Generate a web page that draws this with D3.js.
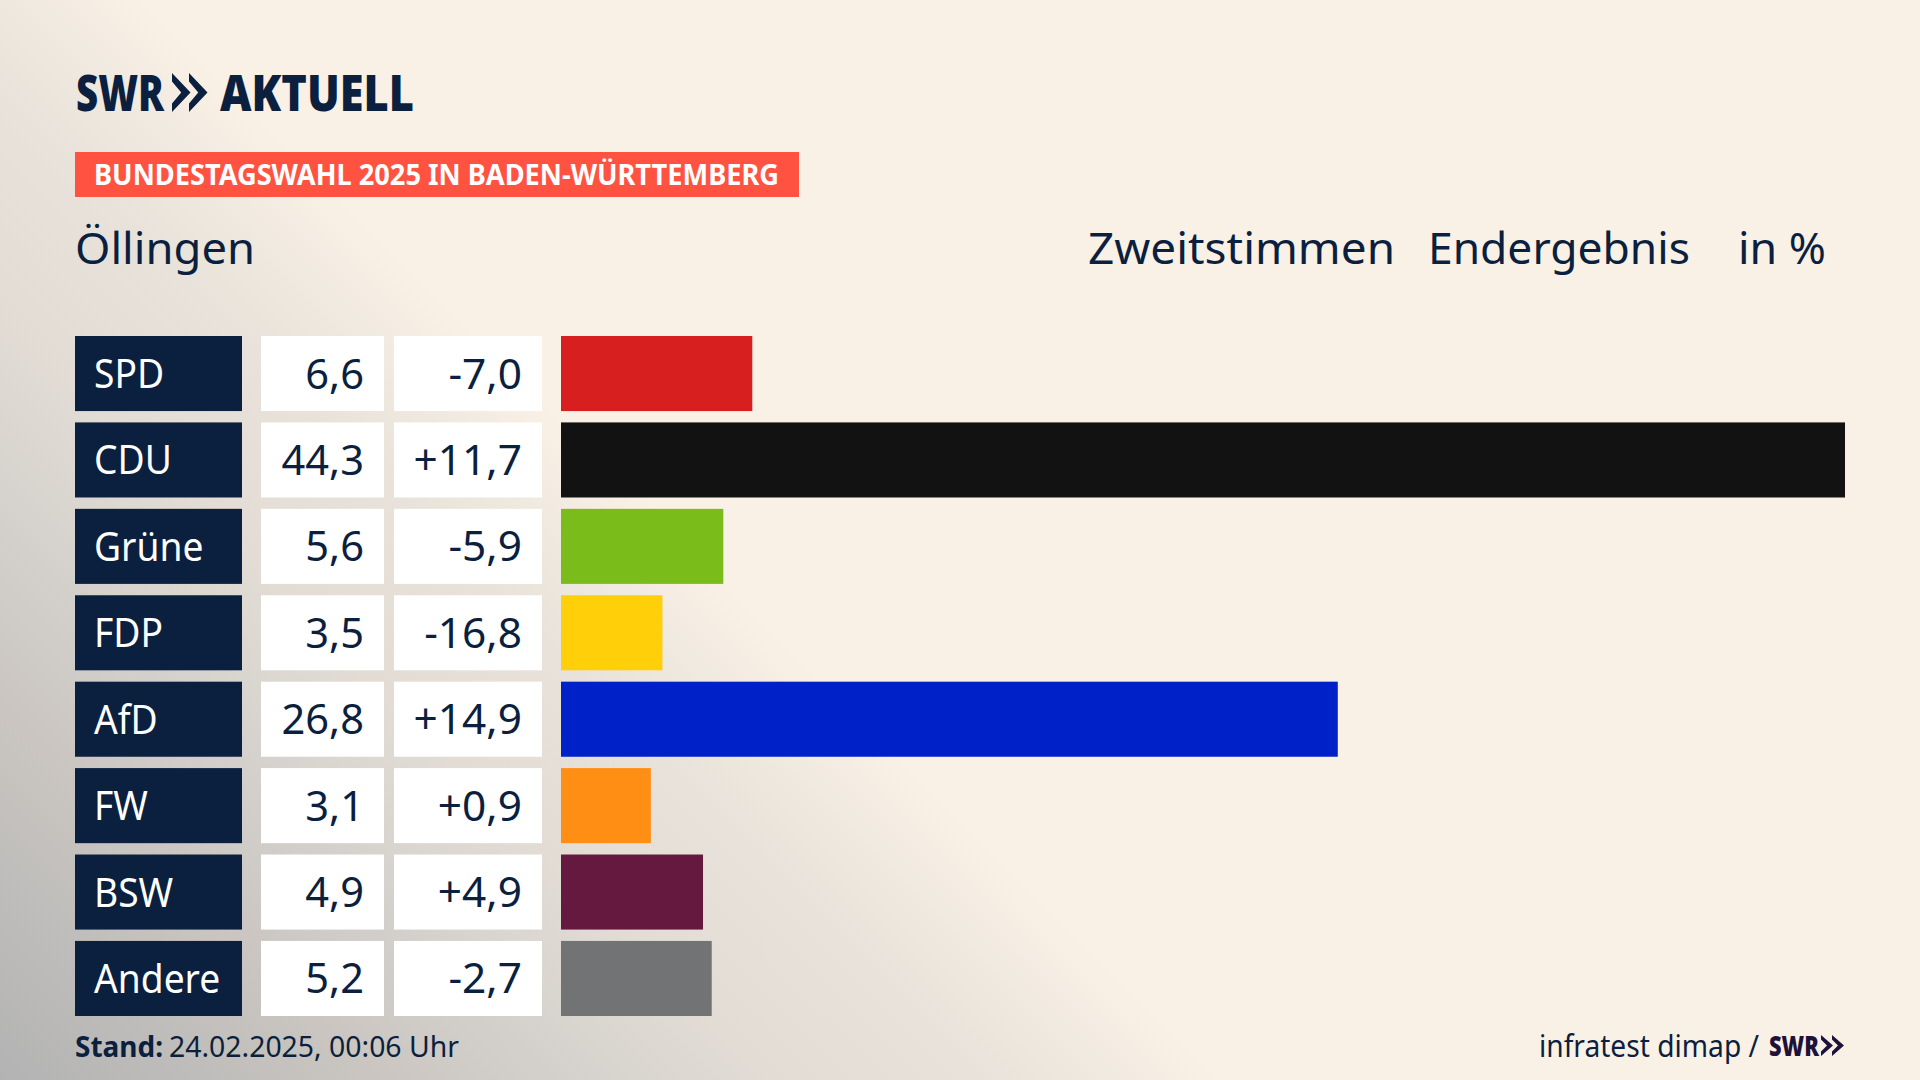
<!DOCTYPE html>
<html><head><meta charset="utf-8">
<script src="https://cdn.jsdelivr.net/npm/d3@7"></script>
<style>html,body{margin:0;padding:0;background:#faf1e6}svg{display:block}text{font-family:"Noto Sans";fill:#0b1f3f}</style>
</head><body>
<script>
const parties=["SPD","CDU","Grüne","FDP","AfD","FW","BSW","Andere"];
const shares=[6.6,44.3,5.6,3.5,26.8,3.1,4.9,5.2];
const diffs=[-7.0,11.7,-5.9,-16.8,14.9,0.9,4.9,-2.7];
const colors=["#d81f1f","#121212","#7abd1a","#ffcf0a","#0021c7","#ff8e14","#66193f","#727375"];
const NAVY="#0b1f3f";
const W=1920,H=1080;
const svg=d3.select("body").append("svg").attr("width",W).attr("height",H);
const defs=svg.append("defs");
const g=defs.append("linearGradient").attr("id","bg").attr("gradientUnits","userSpaceOnUse")
 .attr("x1",0).attr("y1",1080).attr("x2",612).attr("y2",468);
[[0,"#b3b3b3"],[.15,"#bdbcba"],[.32,"#cbc6c1"],[.45,"#d3d0cb"],[.63,"#e2dcd5"],[.8,"#e9e2da"],[.9,"#f0e9df"],[1,"#faf1e6"]].forEach(([o,c])=>g.append("stop").attr("offset",o).attr("stop-color",c));
svg.append("rect").attr("width",W).attr("height",H).attr("fill","url(#bg)");

function txt(s,x,y,size,opt={}){
  const t=svg.append("text").attr("x",x).attr("y",y).attr("font-size",size).text(s)
   .attr("font-weight",opt.w||400).style("fill",opt.fill||NAVY).attr("text-anchor",opt.anchor||"start");
  const k=opt.k||.86;
  const n=t.node().getComputedTextLength();
  t.attr("textLength",opt.width||n*k).attr("lengthAdjust","spacingAndGlyphs");
  return t;
}
function chevrons(x,y,h,w,gap,fill){
  [0,1].forEach(i=>{
    const a=x+i*gap;
    svg.append("path").attr("fill",fill)
     .attr("d",`M${a},${y}L${a+w},${y+h/2}L${a},${y+h}L${a},${y+h*.78}L${a+w*.5},${y+h/2}L${a},${y+h*.22}Z`);
  });
}
// logo
txt("SWR",76,111,50,{w:900,width:88});
chevrons(172,73,39,18.5,17,NAVY);
txt("AKTUELL",220,111,50,{w:900,width:194});
// tag
svg.append("rect").attr("x",75).attr("y",152).attr("width",724).attr("height",45).attr("fill","#ff5240");
txt("BUNDESTAGSWAHL 2025 IN BADEN-WÜRTTEMBERG",94,185,28,{w:700,fill:"#fff",width:685});
// header
txt("Öllingen",75,264,44,{width:180});
txt("Zweitstimmen",1088,264,44,{width:307});
txt("Endergebnis",1428,264,44,{width:262});
txt("in %",1738,264,44,{width:88});

const y=d3.scaleBand().domain(parties).range([336,1016]).paddingInner(.1314).paddingOuter(0);
const x=d3.scaleLinear().domain([0,44.3]).range([561,1845]);
const fmt=v=>v.toFixed(1).replace(".",",");
const sgn=v=>(v>0?"+":"-")+fmt(Math.abs(v));
parties.forEach((p,i)=>{
  const t=y(p),h=y.bandwidth(),b=t+h/2+15;
  svg.append("rect").attr("x",75).attr("y",t).attr("width",167).attr("height",h).attr("fill",NAVY);
  svg.append("rect").attr("x",261).attr("y",t).attr("width",123).attr("height",h).attr("fill","#fff");
  svg.append("rect").attr("x",394).attr("y",t).attr("width",148).attr("height",h).attr("fill","#fff");
  svg.append("rect").attr("x",x(0)).attr("y",t).attr("width",x(shares[i])-x(0)).attr("height",h).attr("fill",colors[i]);
  txt(p,94,b-.5,40,{fill:"#fff",k:.93});
  txt(fmt(shares[i]),364,b,42,{anchor:"end",k:.99});
  txt(sgn(diffs[i]),522,b,42,{anchor:"end",k:1.01});
});
// footer
txt("Stand:",75,1057,29,{w:700,width:88});
txt("24.02.2025, 00:06 Uhr",169,1057,29,{width:290});
txt("infratest dimap /",1539,1057,30,{width:220});
txt("SWR",1769,1056,28,{w:900,width:50,fill:"#1f1238"});
chevrons(1821,1035,21,12,11,"#1f1238");
</script>
</body></html>
